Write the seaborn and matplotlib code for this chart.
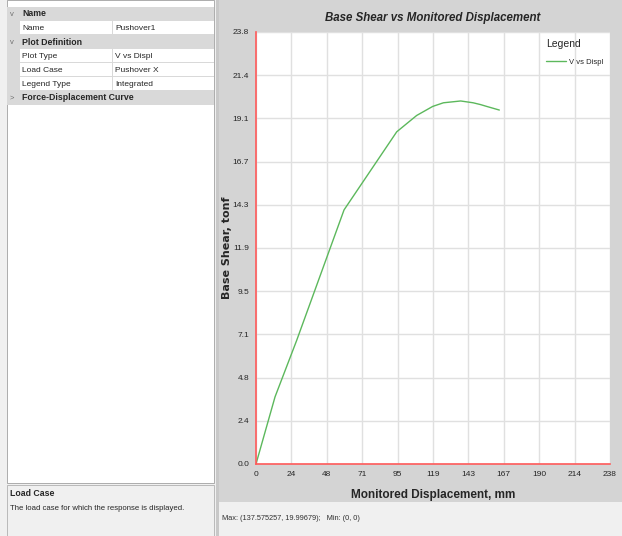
import numpy as np
import pandas as pd
import seaborn as sns
import matplotlib.pyplot as plt
from matplotlib.patches import Rectangle
from matplotlib.lines import Line2D

# pushover curve (displacement mm, base shear tonf)
displ = [0, 12.8, 27.3, 59.2, 94.6, 108.0, 118.8, 126.0, 137.6, 146.0, 151.0, 155.1, 163.6]
shear = [0, 3.7, 6.8, 14.0, 18.3, 19.2, 19.7, 19.9, 20.0, 19.9, 19.8, 19.7, 19.5]
xticks = [0, 23.8, 47.6, 71.4, 95.2, 119, 142.8, 166.6, 190.4, 214.2, 238]
xtick_labels = ['0', '24', '48', '71', '95', '119', '143', '167', '190', '214', '238']
yticks = [0, 2.38, 4.76, 7.14, 9.52, 11.9, 14.28, 16.66, 19.04, 21.42, 23.8]
ytick_labels = ['0.0', '2.4', '4.8', '7.1', '9.5', '11.9', '14.3', '16.7', '19.1', '21.4', '23.8']

# property grid on the left
prop_rows = [('Name', None, True), ('Name', 'Pushover1', False),
             ('Plot Definition', None, True), ('Plot Type', 'V vs Displ', False),
             ('Load Case', 'Pushover X', False), ('Legend Type', 'Integrated', False),
             ('Force-Displacement Curve', None, True)]

sns.set_style('white')
plt.rcParams['font.family'] = ['Liberation Sans Narrow', 'Liberation Sans', 'DejaVu Sans']

W, H = 622, 536
fig = plt.figure(figsize=(W / 100, H / 100), dpi=100)
fig.patch.set_facecolor('#f0f0f0')


def box(x, y, w, h, color, ec='none', lw=0):
    # pixel coords from top-left
    fig.patches.append(Rectangle((x / W, 1 - (y + h) / H), w / W, h / H,
                                 transform=fig.transFigure, facecolor=color,
                                 edgecolor=ec, linewidth=lw, zorder=-5))


def text(x, y, s, **kw):
    fig.text(x / W, 1 - y / H, s, va='center', **kw)


# left panel
box(0, 0, 216, 536, '#f0f0f0')
box(7, 0, 207, 483, 'white', ec='#a0a0a0', lw=0.6)
for i, (label, value, header) in enumerate(prop_rows):
    top = 7 + 14 * i
    if header:
        box(7, top, 207, 14, '#d9d9d9')
        text(10, top + 7, '>' if label.startswith('Force') else 'v', fontsize=5.5, color='#707070')
        text(22, top + 7, label, fontsize=6.3, fontweight='bold')
    else:
        box(7, top, 13, 14, '#d9d9d9')
        box(112, top, 0.8, 14, '#d9d9d9')
        box(20, top + 13.4, 194, 0.6, '#d9d9d9')
        text(22, top + 7, label, fontsize=6)
        text(115, top + 7, value, fontsize=6)
box(7, 485, 207, 51, '#f0f0f0', ec='#b0b0b0', lw=0.6)
text(10, 493, 'Load Case', fontsize=6.3, fontweight='bold')
text(10, 508, 'The load case for which the response is displayed.', fontsize=5.6)

# right panel background
box(216, 0, 3, 536, '#c8c8c8')
box(219, 0, 403, 502, '#d4d4d4')
text(222, 519, 'Max: (137.575257, 19.99679);   Min: (0, 0)', fontsize=5.3, color='#303030')

# chart
ax = fig.add_axes([256 / W, (H - 464) / H, (610 - 256) / W, (464 - 32) / H])
ax.set_zorder(5)
df = pd.DataFrame({'Displacement': displ, 'Shear': shear})
sns.lineplot(data=df, x='Displacement', y='Shear', ax=ax, color='#5cb85c',
             linewidth=1.0, label='V vs Displ', sort=False)
ax.set_xlim(0, 238)
ax.set_ylim(0, 23.8)
ax.set_xticks(xticks)
ax.set_xticklabels(xtick_labels)
ax.set_yticks(yticks)
ax.set_yticklabels(ytick_labels)
ax.tick_params(axis='both', labelsize=6, length=3, width=0.8, color='#404040',
               direction='out', pad=2)
ax.grid(True, color='#e0e0e0', linewidth=1.0)
for s in ['top', 'right']:
    ax.spines[s].set_visible(False)
for s in ['left', 'bottom']:
    ax.spines[s].set_color('#ff5a5a')
    ax.spines[s].set_linewidth(1.2)
ax.set_xlabel('Monitored Displacement, mm', fontsize=8.5, fontweight='bold', labelpad=8)
ax.set_ylabel('Base Shear, tonf', fontsize=8, fontweight='bold', labelpad=0.5,
              family=['DejaVu Sans'])
ax.set_title('Base Shear vs Monitored Displacement', fontsize=8.3, fontweight='bold',
             style='italic', pad=8)
leg = ax.legend(handles=[Line2D([], [], color='#5cb85c', lw=1.0)], labels=['V vs Displ'],
                title='Legend', loc='upper right', frameon=False, fontsize=5.5,
                title_fontsize=7.5, handlelength=2.6, handletextpad=0.4,
                borderaxespad=0.5, labelspacing=0.2)
leg._legend_box.sep = 7
leg._legend_box.align = 'left'

fig.savefig('out.png', dpi=100)
